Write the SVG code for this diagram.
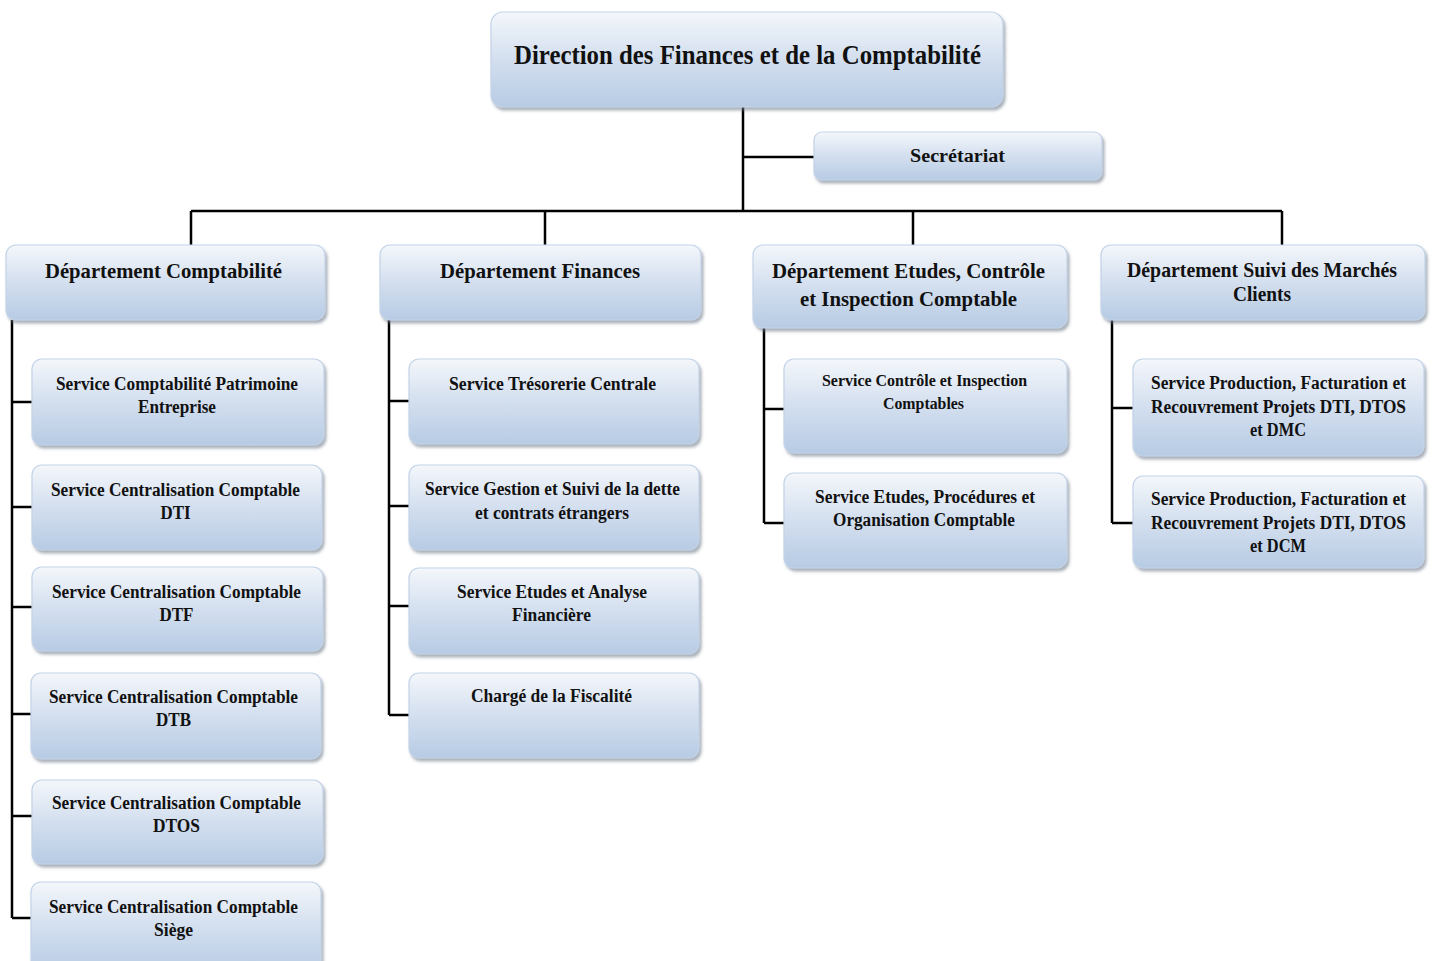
<svg xmlns="http://www.w3.org/2000/svg" width="1432" height="961" viewBox="0 0 1432 961">
<style>
.box{fill:url(#g);stroke:#c3d3e8;stroke-width:1.2;filter:url(#sh)}
.t{font-family:"Liberation Serif","Times New Roman",serif;font-weight:bold;fill:#111;text-anchor:middle}
.t0{font-size:27px}
.t1{font-size:21px}
.t2{font-size:18px}
.c{fill:none;stroke:#000;stroke-width:2.5}
</style>
<defs>
<linearGradient id="g" x1="0" y1="0" x2="0" y2="1">
<stop offset="0" stop-color="#f4f7fb"/>
<stop offset="0.45" stop-color="#d6e1f0"/>
<stop offset="1" stop-color="#b7cbe4"/>
</linearGradient>
<filter id="sh" x="-5%" y="-10%" width="115%" height="130%">
<feDropShadow dx="2" dy="3" stdDeviation="1.5" flood-color="#6f7b8c" flood-opacity="0.6"/>
</filter>
</defs>

<g id="connectors">
<path class="c" d="M743 107V211M743 157H814M191 211H1282M191 211V245M545 211V245M913 211V245M1282 211V245"/>
<path class="c" d="M12 320V918M12 402H32M12 507H32M12 607H32M12 714H31M12 816H32M12 918H31"/>
<path class="c" d="M389 320V715M389 401H409M389 506H409M389 606H409M389 715H409"/>
<path class="c" d="M764 328V523M764 409H784M764 523H784"/>
<path class="c" d="M1112 320V523M1112 408H1133M1112 523H1133"/>
</g>

<g id="direction">
<rect class="box" x="491" y="12" width="512" height="95" rx="12"/>
<text class="t t0" x="747.5" y="64" textLength="467" lengthAdjust="spacingAndGlyphs">Direction des Finances et de la Comptabilité</text>
</g>
<g id="secretariat">
<rect class="box" x="814" y="132" width="288" height="48" rx="8"/>
<text class="t t2" x="957.5" y="162" textLength="95" lengthAdjust="spacingAndGlyphs">Secrétariat</text>
</g>

<g id="dep-comptabilite">
<rect class="box" x="6" y="245" width="319" height="75" rx="10"/>
<text class="t t1" x="163.5" y="278" textLength="237" lengthAdjust="spacingAndGlyphs">Département Comptabilité</text>
</g>
<g id="dep-finances">
<rect class="box" x="380" y="245" width="321" height="75" rx="10"/>
<text class="t t1" x="540" y="278" textLength="200" lengthAdjust="spacingAndGlyphs">Département Finances</text>
</g>
<g id="dep-etudes">
<rect class="box" x="753" y="245" width="314" height="83" rx="10"/>
<text class="t t1" x="908.5" y="278" textLength="273" lengthAdjust="spacingAndGlyphs">Département Etudes, Contrôle</text>
<text class="t t1" x="908.5" y="306" textLength="217" lengthAdjust="spacingAndGlyphs">et Inspection Comptable</text>
</g>
<g id="dep-suivi">
<rect class="box" x="1101" y="245" width="324" height="75" rx="10"/>
<text class="t t1" x="1262" y="277" textLength="270" lengthAdjust="spacingAndGlyphs">Département Suivi des Marchés</text>
<text class="t t1" x="1262" y="301" textLength="58" lengthAdjust="spacingAndGlyphs">Clients</text>
</g>

<g id="s-patrimoine">
<rect class="box" x="32" y="359" width="292" height="86" rx="10"/>
<text class="t t2" x="177" y="390" textLength="242" lengthAdjust="spacingAndGlyphs">Service Comptabilité Patrimoine</text>
<text class="t t2" x="177" y="413" textLength="78" lengthAdjust="spacingAndGlyphs">Entreprise</text>
</g>
<g id="s-dti">
<rect class="box" x="32" y="465" width="290" height="85" rx="10"/>
<text class="t t2" x="175.5" y="496" textLength="249" lengthAdjust="spacingAndGlyphs">Service Centralisation Comptable</text>
<text class="t t2" x="175.5" y="519" textLength="30" lengthAdjust="spacingAndGlyphs">DTI</text>
</g>
<g id="s-dtf">
<rect class="box" x="32" y="567" width="291" height="84" rx="10"/>
<text class="t t2" x="176.5" y="598" textLength="249" lengthAdjust="spacingAndGlyphs">Service Centralisation Comptable</text>
<text class="t t2" x="176.5" y="621" textLength="34" lengthAdjust="spacingAndGlyphs">DTF</text>
</g>
<g id="s-dtb">
<rect class="box" x="31" y="673" width="290" height="86" rx="10"/>
<text class="t t2" x="173.5" y="703" textLength="249" lengthAdjust="spacingAndGlyphs">Service Centralisation Comptable</text>
<text class="t t2" x="173.5" y="726" textLength="35" lengthAdjust="spacingAndGlyphs">DTB</text>
</g>
<g id="s-dtos">
<rect class="box" x="32" y="780" width="291" height="84" rx="10"/>
<text class="t t2" x="176.5" y="809" textLength="249" lengthAdjust="spacingAndGlyphs">Service Centralisation Comptable</text>
<text class="t t2" x="176.5" y="832" textLength="47" lengthAdjust="spacingAndGlyphs">DTOS</text>
</g>
<g id="s-siege">
<rect class="box" x="31" y="882" width="290" height="90" rx="10"/>
<text class="t t2" x="173.5" y="913" textLength="249" lengthAdjust="spacingAndGlyphs">Service Centralisation Comptable</text>
<text class="t t2" x="173.5" y="936" textLength="39" lengthAdjust="spacingAndGlyphs">Siège</text>
</g>

<g id="s-tresorerie">
<rect class="box" x="409" y="359" width="290" height="85" rx="10"/>
<text class="t t2" x="552.5" y="390" textLength="207" lengthAdjust="spacingAndGlyphs">Service Trésorerie Centrale</text>
</g>
<g id="s-dette">
<rect class="box" x="409" y="465" width="290" height="85" rx="10"/>
<text class="t t2" x="552.5" y="495" textLength="255" lengthAdjust="spacingAndGlyphs">Service Gestion et Suivi de la dette</text>
<text class="t t2" x="552" y="519" textLength="154" lengthAdjust="spacingAndGlyphs">et contrats étrangers</text>
</g>
<g id="s-analyse">
<rect class="box" x="409" y="568" width="290" height="86" rx="10"/>
<text class="t t2" x="552" y="598" textLength="190" lengthAdjust="spacingAndGlyphs">Service Etudes et Analyse</text>
<text class="t t2" x="551.5" y="621" textLength="79" lengthAdjust="spacingAndGlyphs">Financière</text>
</g>
<g id="s-fiscalite">
<rect class="box" x="409" y="673" width="290" height="85" rx="10"/>
<text class="t t2" x="551.5" y="702" textLength="161" lengthAdjust="spacingAndGlyphs">Chargé de la Fiscalité</text>
</g>

<g id="s-controle">
<rect class="box" x="784" y="359" width="283" height="94" rx="10"/>
<text class="t t2" x="924.5" y="386" textLength="205" lengthAdjust="spacingAndGlyphs" style="font-size:17px">Service  Contrôle et Inspection</text>
<text class="t t2" x="923.5" y="409" textLength="81" lengthAdjust="spacingAndGlyphs" style="font-size:17px">Comptables</text>
</g>
<g id="s-procedures">
<rect class="box" x="784" y="473" width="283" height="95" rx="10"/>
<text class="t t2" x="925" y="503" textLength="220" lengthAdjust="spacingAndGlyphs">Service Etudes, Procédures et</text>
<text class="t t2" x="924" y="526" textLength="182" lengthAdjust="spacingAndGlyphs">Organisation Comptable</text>
</g>

<g id="s-dmc">
<rect class="box" x="1133" y="359" width="291" height="97" rx="10"/>
<text class="t t2" x="1278.5" y="389" textLength="255" lengthAdjust="spacingAndGlyphs">Service Production, Facturation et</text>
<text class="t t2" x="1278.5" y="413" textLength="255" lengthAdjust="spacingAndGlyphs">Recouvrement Projets DTI, DTOS</text>
<text class="t t2" x="1278" y="436" textLength="56" lengthAdjust="spacingAndGlyphs">et DMC</text>
</g>
<g id="s-dcm">
<rect class="box" x="1133" y="476" width="291" height="92" rx="10"/>
<text class="t t2" x="1278.5" y="505" textLength="255" lengthAdjust="spacingAndGlyphs">Service Production, Facturation et</text>
<text class="t t2" x="1278.5" y="529" textLength="255" lengthAdjust="spacingAndGlyphs">Recouvrement Projets DTI, DTOS</text>
<text class="t t2" x="1278" y="552" textLength="56" lengthAdjust="spacingAndGlyphs">et DCM</text>
</g>
</svg>
